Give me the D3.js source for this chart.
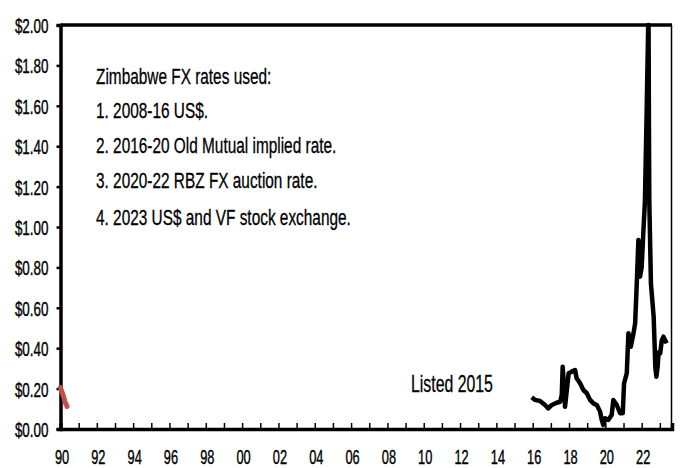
<!DOCTYPE html>
<html>
<head>
<meta charset="utf-8">
<script src="https://cdn.jsdelivr.net/npm/d3@7"></script>
<style>
  body { margin: 0; background: #fff; }
  text { font-family: "Liberation Sans", Arial, sans-serif; fill: #000; }
</style>
</head>
<body>
<div id="chart-area"></div>
<script>
// Early series (red), 1990
var earlyYears = [1990.0, 1990.14, 1990.25, 1990.36];
var earlyValues = [0.205, 0.168, 0.134, 0.112];

// Zimbabwe series (black), 2016 - 2023
var zimYears = [2015.95, 2016.13, 2016.40, 2016.68, 2016.86, 2017.05, 2017.32, 2017.51, 2017.60,
  2017.65, 2017.74, 2017.78, 2017.98, 2018.15, 2018.33, 2018.42, 2018.61, 2018.79, 2018.98,
  2019.16, 2019.34, 2019.53, 2019.71, 2019.80, 2019.89, 2019.98, 2020.16, 2020.35, 2020.44,
  2020.63, 2020.81, 2020.96, 2021.03, 2021.18, 2021.27, 2021.40, 2021.55, 2021.64, 2021.73,
  2021.82, 2021.91, 2022.00, 2022.09, 2022.18, 2022.27, 2022.36, 2022.38, 2022.40, 2022.42,
  2022.51, 2022.66, 2022.71, 2022.75, 2022.81, 2022.88, 2022.93, 2023.02, 2023.11, 2023.20,
  2023.29, 2023.38];
var zimValues = [0.157, 0.144, 0.139, 0.119, 0.102, 0.119, 0.130, 0.135, 0.168,
  0.308, 0.193, 0.110, 0.276, 0.284, 0.292, 0.251, 0.226, 0.193, 0.177,
  0.144, 0.127, 0.119, 0.086, 0.045, 0.020, 0.053, 0.045, 0.069, 0.144,
  0.119, 0.078, 0.078, 0.226, 0.276, 0.474, 0.407, 0.474, 0.523, 0.720,
  0.936, 0.754, 0.800, 0.969, 1.130, 1.550, 2.000, 2.000, 1.500, 1.130,
  0.720, 0.556, 0.424, 0.308, 0.259, 0.308, 0.380, 0.375, 0.440, 0.457,
  0.440, 0.424];

var yTicks = [0, 0.2, 0.4, 0.6, 0.8, 1.0, 1.2, 1.4, 1.6, 1.8, 2.0];
var xTicks = d3.range(1990, 2024);

var noteLines = [
  "Zimbabwe FX rates used:",
  "1.  2008-16 US$.",
  "2.  2016-20 Old Mutual implied rate.",
  "3.  2020-22  RBZ FX auction rate.",
  "4.  2023 US$ and VF stock  exchange."
];
var listedLabel = "Listed  2015";

var margin = { left: 60.5, right: 8, top: 25, bottom: 39 };
var width = 680 - margin.left - margin.right,
    height = 468 - margin.top - margin.bottom;

var svg = d3.select("#chart-area")
  .append("svg")
    .attr("width", 680)
    .attr("height", 468);

var g = svg.append("g")
  .attr("transform", "translate(" + margin.left + ", " + margin.top + ")");

var x = d3.scaleLinear()
  .domain([1990, 2023.67])
  .range([0, width]);

var y = d3.scaleLinear()
  .domain([0, 2])
  .range([height, 0]);

// frame: top and right
g.append("line")
  .attr("x1", 0).attr("x2", width)
  .attr("y1", 0).attr("y2", 0)
  .attr("stroke", "#000").attr("stroke-width", 3.5);
g.append("line")
  .attr("x1", width - 0.5).attr("x2", width - 0.5)
  .attr("y1", 0).attr("y2", height)
  .attr("stroke", "#000").attr("stroke-width", 1.5);

// Y axis
var ySx = 0.64;
var yAxisGroup = g.append("g")
  .call(d3.axisLeft(y).tickValues(yTicks).tickSize(4).tickFormat(d3.format("$.2f")));
yAxisGroup.select(".domain").attr("stroke-width", 3.5);
yAxisGroup.selectAll(".tick line").attr("stroke-width", 2.5);
yAxisGroup.selectAll(".tick text")
  .attr("font-size", "21px")
  .attr("x", null).attr("dy", null)
  .attr("transform", "translate(-12, 7.5) scale(" + ySx + ",1)")
  .style("font-family", "Liberation Sans, Arial, sans-serif")
  .attr("stroke", "#000").attr("stroke-width", 0.4);

// X axis, ticks every year and labels every two
var xSx = 0.64;
var xAxisGroup = g.append("g")
  .attr("transform", "translate(0, " + height + ")")
  .call(d3.axisBottom(x).tickValues(xTicks).tickSize(-6)
    .tickFormat(function(d) { return d % 2 === 0 ? d3.format("02d")(d % 100) : ""; }));
xAxisGroup.select(".domain").attr("stroke-width", 3.5);
xAxisGroup.selectAll(".tick line").attr("stroke-width", 1.5);
xAxisGroup.selectAll(".tick text")
  .attr("font-size", "20px")
  .attr("y", null).attr("dy", null)
  .attr("transform", "translate(1, 35) scale(" + xSx + ",1)")
  .style("font-family", "Liberation Sans, Arial, sans-serif")
  .attr("stroke", "#000").attr("stroke-width", 0.4);

// lines
var line = d3.line()
  .x(function(d) { return x(d[0]); })
  .y(function(d) { return y(d[1]); });

g.append("path")
  .datum(d3.zip(earlyYears, earlyValues))
  .attr("fill", "none")
  .attr("stroke", "#c0504d")
  .attr("stroke-width", 5)
  .attr("stroke-linejoin", "round")
  .attr("stroke-linecap", "round")
  .attr("d", line);

g.append("path")
  .datum(d3.zip(zimYears, zimValues))
  .attr("fill", "none")
  .attr("stroke", "#000")
  .attr("stroke-width", 4.5)
  .attr("stroke-linejoin", "round")
  .attr("d", line);

// notes
var noteBase = [84, 118, 153, 188, 225];
noteLines.forEach(function(t, i) {
  svg.append("text")
    .attr("font-size", "22px")
    .attr("stroke", "#000").attr("stroke-width", 0.3)
    .attr("transform", "translate(96, " + noteBase[i] + ") scale(0.7,1)")
    .text(t);
});

svg.append("text")
  .attr("font-size", "24px")
  .attr("stroke", "#000").attr("stroke-width", 0.3)
  .attr("transform", "translate(411, 392) scale(0.66,1)")
  .text(listedLabel);
</script>
</body>
</html>
